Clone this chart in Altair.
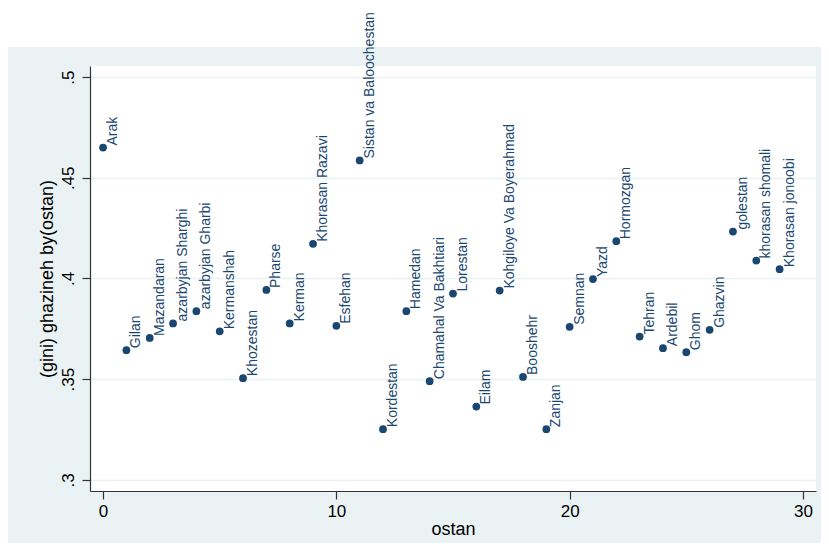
import altair as alt
import pandas as pd

ostan = [0, 1, 2, 3, 4, 5, 6, 7, 8, 9, 10, 11, 12, 13, 14, 15, 16, 17, 18, 19,
         20, 21, 22, 23, 24, 25, 26, 27, 28, 29]
names = ["Arak", "Gilan", "Mazandaran", "azarbyjan Sharghi", "azarbyjan Gharbi",
         "Kermanshah", "Khozestan", "Pharse", "Kerman", "Khorasan Razavi",
         "Esfehan", "Sistan va Baloochestan", "Kordestan", "Hamedan",
         "Chamahal Va Bakhtiari", "Lorestan", "Eilam", "Kohgiloye Va Boyerahmad",
         "Booshehr", "Zanjan", "Semnan", "Yazd", "Hormozgan", "Tehran", "Ardebil",
         "Ghom", "Ghazvin", "golestan", "khorasan shomali", "Khorasan jonoobi"]
gini = [0.465, 0.3644, 0.3705, 0.3777, 0.3838, 0.3738, 0.3505, 0.3943, 0.3777,
        0.4172, 0.3765, 0.4586, 0.3252, 0.3838, 0.349, 0.3925, 0.3364, 0.394,
        0.3511, 0.3252, 0.376, 0.3997, 0.4185, 0.3712, 0.3654, 0.3634, 0.3745,
        0.4233, 0.4089, 0.4046]
x_ticks = [0, 10, 20, 30]
y_ticks = [0.3, 0.35, 0.4, 0.45, 0.5]

df = pd.DataFrame({"ostan": ostan, "name": names, "gini": gini})

W, H = 726, 425
FONT = "Liberation Sans"
NAVY = "#1a476f"
BG = "#EAF2F3"

x_enc = alt.X("ostan:Q",
              scale=alt.Scale(domain=[-0.56, 30.56], nice=False, zero=False),
              axis=alt.Axis(values=x_ticks, grid=False, title="ostan",
                            tickSize=8, labelPadding=4, labelFontSize=17,
                            titleFontSize=18, titleX=W / 2, titleY=43,
                            titleAlign="center", titleBaseline="alphabetic"))
y_enc = alt.Y("gini:Q",
              scale=alt.Scale(domain=[0.2945, 0.5055], nice=False, zero=False),
              axis=alt.Axis(values=y_ticks, grid=True, gridColor=BG, gridWidth=1.5,
                            title="(gini) ghazineh by(ostan)",
                            labelExpr="slice(format(datum.value, '.2~f'), 1)",
                            labelAngle=270, labelAlign="center", labelBaseline="bottom",
                            tickSize=8, labelPadding=5, labelFontSize=17,
                            titleFontSize=18, titleAngle=270, titleX=-43, titleY=H / 2,
                            titleAlign="center", titleBaseline="middle"))

strip = alt.Chart(alt.Data(values=[{}])).mark_rect(color="white").encode(
    x=alt.value(-82), x2=alt.value(W + 5), y=alt.value(-58), y2=alt.value(-19))

base = alt.Chart(df)
points = base.mark_circle(size=60, color=NAVY, opacity=1).encode(x=x_enc, y=y_enc)
labels = base.mark_text(angle=270, align="left", baseline="top", dx=2, dy=3,
                        fontSize=14, font=FONT, color=NAVY).encode(
    x="ostan:Q", y="gini:Q", text="name:N")

chart = alt.layer(strip, points, labels).properties(
    width=W, height=H,
    autosize=alt.AutoSizeParams(type="none"),
    padding={"left": 82, "top": 58, "right": 5, "bottom": 52},
    background=BG,
).configure_view(fill="white", stroke=None).configure_axis(
    labelFont=FONT, titleFont=FONT, labelColor="black", titleColor="black",
    titleFontWeight="normal", domainColor="#333333", tickColor="#333333",
    domainWidth=1.2, tickWidth=1.2,
)

chart.save("out.html", embed_options={"renderer": "svg", "actions": False})
